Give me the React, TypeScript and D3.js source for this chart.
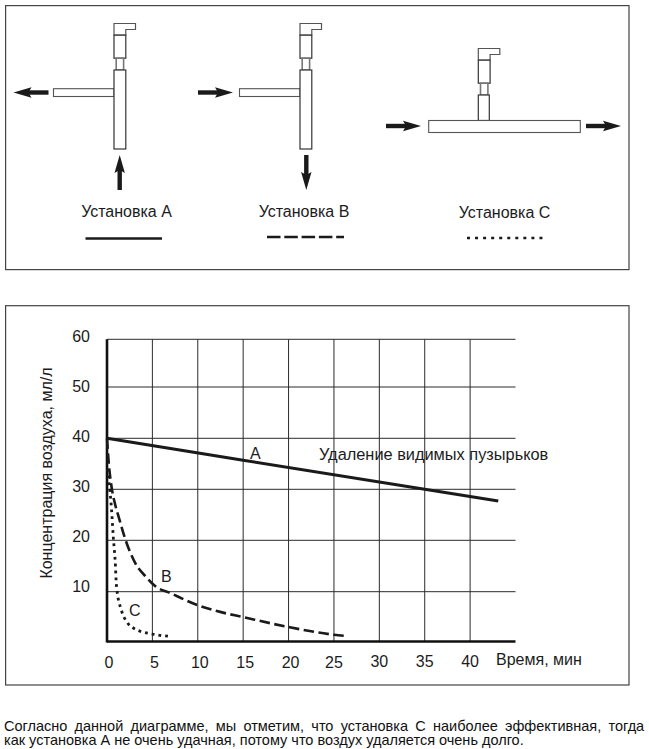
import React from "react";
import * as d3 from "d3";

// ---- data ----
const xTicks = [0, 5, 10, 15, 20, 25, 30, 35, 40, 45];
const xTickLabels = [0, 5, 10, 15, 20, 25, 30, 35, 40];
const yTicks = [0, 10, 20, 30, 40, 50, 60];
const yTickLabels = [10, 20, 30, 40, 50, 60];

const timeA = [0, 15, 35, 43.1];
const concA = [40, 35.7, 30, 27.7];

const timeB = [0, 0.2, 0.5, 0.9, 1.3, 2, 3.1, 4.4, 5.3, 7, 10, 12.1, 15, 20, 25, 26.3];
const concB = [40, 35, 30.5, 27, 24.5, 20.3, 15.6, 12.7, 11.1, 9.7, 7.3, 6.1, 4.9, 2.9, 1.35, 1.1];

const timeC = [0.05, 0.25, 0.5, 0.7, 0.9, 1.05, 1.6, 2.2, 2.9, 5, 7.1];
const concC = [34, 31, 26, 20.5, 16, 11, 6.2, 3.9, 2.7, 1.5, 1];

const setupLabels = ["Установка A", "Установка B", "Установка C"];
const curveLabels = ["A", "B", "C"];
const yTitle = "Концентрация воздуха, мл/л";
const xTitle = "Время, мин";
const noteTitle = "Удаление видимых пузырьков";
const caption = [
  "Согласно данной диаграмме, мы отметим, что установка С наиболее эффективная, тогда",
  "как установка А не очень удачная, потому что воздух удаляется очень долго.",
];

// ---- layout ----
const FONT = "'Liberation Sans', Arial, sans-serif";
const INK = "#1c1c1c";
const x = d3.scaleLinear().domain([0, 45]).range([107, 515.5]);
const y = d3.scaleLinear().domain(yTicks).range([641.5, 591.7, 540.3, 489.3, 438.3, 387, 339.3]);
const yLabel = d3.scaleLinear().domain([10, 60]).range([592, 342]);

const toPoints = (t: number[], c: number[]) => t.map((d, i) => [d, c[i]] as [number, number]);
const line = d3
  .line<[number, number]>()
  .x((d) => x(d[0]))
  .y((d) => y(d[1]))
  .curve(d3.curveMonotoneX);

function Arrow({ x1, y1, x2, y2 }: { x1: number; y1: number; x2: number; y2: number }) {
  const len = Math.hypot(x2 - x1, y2 - y1);
  const ang = (Math.atan2(y2 - y1, x2 - x1) * 180) / Math.PI;
  return (
    <g transform={`translate(${x1},${y1}) rotate(${ang})`} fill="#1a1a1a">
      <rect x={0} y={-2.2} width={len - 12} height={4.4} />
      <path d={`M${len - 18},-5.2 L${len},0 L${len - 18},5.2 L${len - 15},0 Z`} />
    </g>
  );
}

function Probe({ left, top }: { left: number; top: number }) {
  const w = 11.8;
  return (
    <g fill="#fff" stroke="#333" strokeWidth={1.2}>
      <path
        d={`M${left},${top + 11.5} V${top} H${left + 21.5} V${top + 6} H${left + w} V${top + 11.5} Z`}
        stroke="#555"
      />
      <rect x={left} y={top + 11.7} width={w} height={23} />
      <rect x={left + 2.2} y={top + 34.7} width={w - 4.4} height={12} stroke="#777" strokeWidth={1.6} />
    </g>
  );
}

function Setups() {
  return (
    <g>
      <rect x={5.6} y={5.6} width={623.4} height={264} fill="none" stroke="#444" strokeWidth={1.2} />
      {/* A */}
      <Probe left={114} top={23.5} />
      <rect x={53.5} y={88.7} width={60.5} height={7.8} fill="#fff" stroke="#555" strokeWidth={1.1} />
      <rect x={114} y={70} width={11.8} height={79} fill="#fff" stroke="#333" strokeWidth={1.2} />
      <Arrow x1={48.5} y1={92.5} x2={13.5} y2={92.5} />
      <Arrow x1={119.7} y1={190} x2={119.7} y2={155} />
      {/* B */}
      <Probe left={300} top={23.5} />
      <rect x={239.5} y={88.7} width={60.5} height={7.8} fill="#fff" stroke="#555" strokeWidth={1.1} />
      <rect x={300} y={70} width={11.8} height={79} fill="#fff" stroke="#333" strokeWidth={1.2} />
      <Arrow x1={198} y1={92.5} x2={233} y2={92.5} />
      <Arrow x1={306.3} y1={155} x2={306.3} y2={190} />
      {/* C */}
      <Probe left={478.3} top={48.5} />
      <rect x={478.3} y={95} width={11} height={25.5} fill="#fff" stroke="#333" strokeWidth={1.2} />
      <rect x={428.7} y={120.5} width={151.6} height={12} fill="#fff" stroke="#555" strokeWidth={1.1} />
      <Arrow x1={386} y1={126} x2={421} y2={126} />
      <Arrow x1={586} y1={126} x2={621} y2={126} />
      {/* legend */}
      <g fontFamily={FONT} fontSize={16} fill={INK} textAnchor="middle">
        <text x={126.5} y={217.3}>{setupLabels[0]}</text>
        <text x={304} y={216.7}>{setupLabels[1]}</text>
        <text x={504.5} y={218.3}>{setupLabels[2]}</text>
      </g>
      <line x1={85.5} x2={162} y1={238.5} y2={238.5} stroke="#1a1a1a" strokeWidth={2.6} />
      <line x1={267} x2={344} y1={237} y2={237} stroke="#1a1a1a" strokeWidth={2.6} strokeDasharray="13.5 3.8" />
      <line x1={467} x2={544} y1={238} y2={238} stroke="#1a1a1a" strokeWidth={2.6} strokeDasharray="3 5.05" />
    </g>
  );
}

function Chart() {
  return (
    <g>
      <rect x={5.6} y={305.7} width={623.4} height={379.3} fill="none" stroke="#444" strokeWidth={1.2} />
      {/* grid */}
      <g stroke="#2b2b2b" strokeWidth={1}>
        {xTicks.slice(1, -1).map((t) => (
          <line key={t} x1={x(t)} x2={x(t)} y1={y(60)} y2={y(0)} />
        ))}
        {yTicks.slice(1).map((t) => (
          <line key={t} x1={x(0)} x2={x(45)} y1={y(t)} y2={y(t)} />
        ))}
      </g>
      {/* axes */}
      <line x1={x(0)} x2={x(0)} y1={y(60)} y2={y(0) + 1} stroke="#111" strokeWidth={2.6} />
      <line x1={x(0)} x2={x(45)} y1={y(0)} y2={y(0)} stroke="#111" strokeWidth={2.4} />
      {/* curves */}
      <g fill="none" stroke="#1a1a1a">
        <path d={line(toPoints(timeA, concA)) ?? ""} strokeWidth={3} />
        <path d={line(toPoints(timeB, concB)) ?? ""} strokeWidth={2.6} strokeDasharray="10.5 4.5" />
        <path d={line(toPoints(timeC, concC)) ?? ""} strokeWidth={2.8} strokeDasharray="2.8 4" />
      </g>
      {/* tick labels */}
      <g fontFamily={FONT} fontSize={16} fill={INK}>
        {yTickLabels.map((t) => (
          <text key={t} x={90} y={yLabel(t)} textAnchor="end">{t}</text>
        ))}
        {xTickLabels.map((t) => (
          <text key={t} x={x(t) + (t < 25 ? 2 : 0)} y={t < 30 ? 667.5 : 666.5} textAnchor="middle">{t}</text>
        ))}
        <text x={496} y={665}>{xTitle}</text>
        <text x={319} y={460} fontSize={16.35}>{noteTitle}</text>
        <text x={250} y={459}>{curveLabels[0]}</text>
        <text x={161} y={582}>{curveLabels[1]}</text>
        <text x={129} y={615.7}>{curveLabels[2]}</text>
        <text transform="translate(52,473) rotate(-90)" textAnchor="middle">{yTitle}</text>
      </g>
      {/* caption */}
      <g fontFamily={FONT} fontSize={14.5} fill="#111">
        <text x={4} y={731} wordSpacing={3.2}>{caption[0]}</text>
        <text x={4} y={745}>{caption[1]}</text>
      </g>
    </g>
  );
}

export default function App() {
  return (
    <svg width={649} height={749} style={{ position: "absolute", left: 0, top: 0, background: "#fff" }}>
      <Setups />
      <Chart />
    </svg>
  );
}
